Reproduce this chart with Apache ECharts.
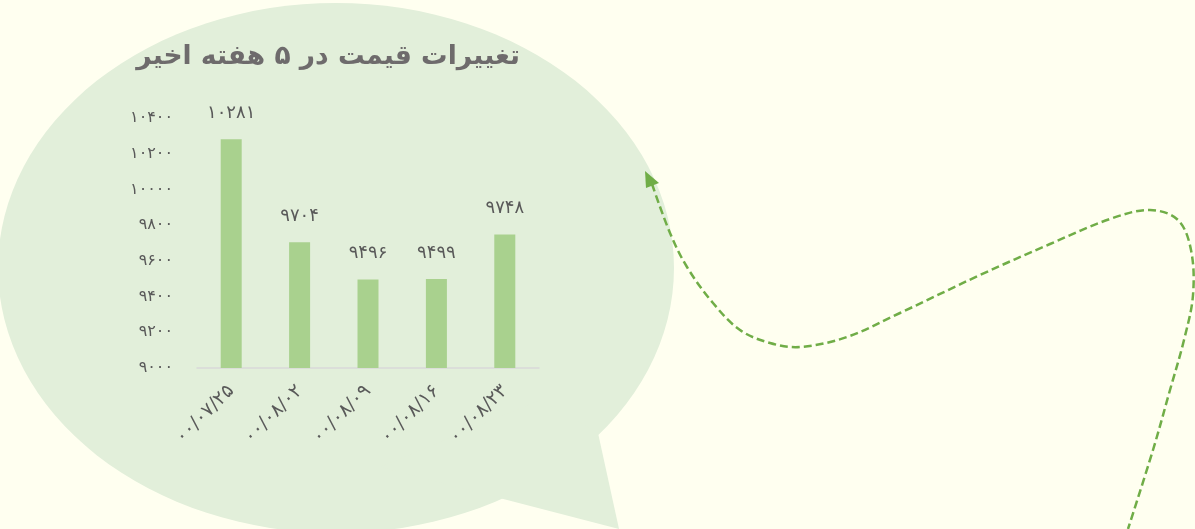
<!DOCTYPE html>
<html>
<head>
<meta charset="utf-8">
<script src="https://cdn.jsdelivr.net/npm/echarts@6/dist/echarts.min.js"></script>
<style>
  html, body { margin: 0; padding: 0; background: #fffff0; }
</style>
</head>
<body>
<div id="chart" style="width: 1195px; height: 529px;"></div>
<script>
// data
const dates = ['00/07/25', '00/08/02', '00/08/09', '00/08/16', '00/08/23'];
const prices = [10281, 9704, 9496, 9499, 9748];
const yMin = 9000;
const yMax = 10400;
const yStep = 200;
const titleText = 'تغییرات قیمت در ۵ هفته اخیر';

// decorative dashed curve (not data)
const curvePath = [
  [652, 184], [670, 233], [687, 267], [713, 303], [740, 330], [770, 343],
  [800, 347], [847, 337], [900, 313], [980, 275], [1050, 244], [1110, 219],
  [1150, 210], [1178, 220], [1191, 250], [1193, 295], [1184, 340],
  [1170, 390], [1153, 450], [1128, 529]
];

// اعداد فارسی
function toFa(v) {
  return String(v).replace(/[0-9]/g, d => '۰۱۲۳۴۵۶۷۸۹'[d]);
}

const font = "'DejaVu Sans', sans-serif";
const chart = echarts.init(document.getElementById('chart'));

const option = {
  backgroundColor: '#fffff0',
  animation: false,
  graphic: [
    {
      type: 'circle',
      z: -10,
      x: 336, y: 268,
      scaleX: 338 / 265,
      shape: { cx: 0, cy: 0, r: 265 },
      style: { fill: '#e2efda' }
    },
    {
      type: 'polygon',
      z: -10,
      shape: { points: [[540, 400], [598, 433], [619, 529], [380, 467]] },
      style: { fill: '#e2efda' }
    },
    {
      type: 'polyline',
      z: -5,
      shape: { points: curvePath, smooth: 0.35 },
      style: { stroke: '#70ad47', lineWidth: 2.5, lineDash: [8, 4], fill: null }
    },
    {
      type: 'polygon',
      z: -5,
      shape: { points: [[645, 171], [659, 183], [646, 188]] },
      style: { fill: '#70ad47' }
    },
    {
      type: 'text',
      x: 328, y: 57,
      style: {
        text: titleText,
        font: 'bold 26.5px ' + font,
        fill: '#6e6b6c',
        align: 'center',
        verticalAlign: 'middle'
      }
    }
  ],
  grid: {
    left: 197,
    right: 1195 - 539,
    top: 118,
    bottom: 529 - 368
  },
  xAxis: {
    type: 'category',
    data: dates,
    axisTick: { show: false },
    axisLine: { lineStyle: { color: '#d9d9d9', width: 1.5 } },
    axisLabel: {
      rotate: 45,
      margin: 20,
      color: '#595959',
      fontSize: 19,
      fontFamily: font,
      formatter: v => toFa(v)
    }
  },
  yAxis: {
    type: 'value',
    min: yMin,
    max: yMax,
    interval: yStep,
    axisLine: { show: false },
    axisTick: { show: false },
    splitLine: { show: false },
    axisLabel: {
      margin: 24,
      color: '#595959',
      fontSize: 16,
      fontFamily: font,
      formatter: v => toFa(v)
    }
  },
  series: [
    {
      type: 'bar',
      data: prices,
      barWidth: 21,
      itemStyle: { color: '#a9d18e' },
      label: {
        show: true,
        position: 'top',
        distance: 17,
        color: '#595959',
        fontSize: 18,
        fontFamily: font,
        formatter: p => toFa(p.value)
      }
    }
  ]
};

chart.setOption(option);
window.addEventListener('resize', chart.resize);
</script>
</body>
</html>
